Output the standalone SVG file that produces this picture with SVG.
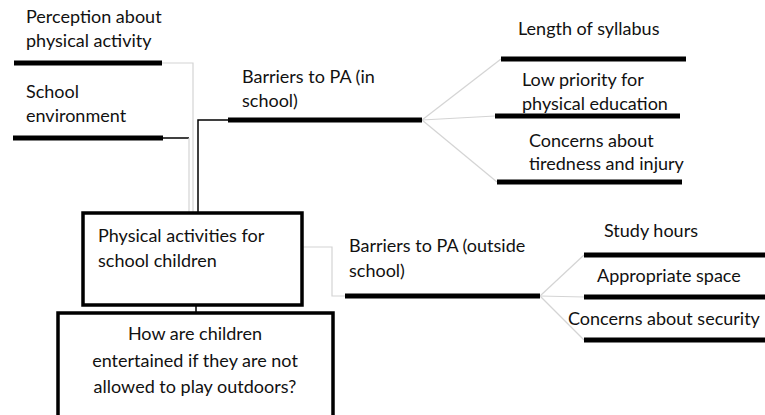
<svg xmlns="http://www.w3.org/2000/svg" width="765" height="415" viewBox="0 0 765 415">
<style>
text{font-family:Lato,"Liberation Sans",sans-serif;font-size:18px;fill:#111}
.bar{stroke:#000;stroke-width:5;fill:none}
.grey{stroke:#d4d4d4;stroke-width:1.2;fill:none}
.blk{stroke:#000;stroke-width:1.5;fill:none}
.box{stroke:#000;stroke-width:3.5;fill:#fff}
</style>
<rect width="765" height="415" fill="#fff"/>
<g id="connectors">
<polyline class="grey" points="162,63 193,63 193,213"/>
<polyline class="blk" points="163,138 189,138"/>
<polyline class="grey" points="189,138 189,213"/>
<polyline class="blk" points="198,213 198,120 228,120"/>
<line class="grey" x1="422" y1="120" x2="501" y2="59"/>
<line class="grey" x1="422" y1="120" x2="495" y2="116"/>
<line class="grey" x1="422" y1="120" x2="497" y2="182"/>
<polyline class="grey" points="302,247 332,247 332,296 345,296"/>
<line class="grey" x1="540" y1="296" x2="584" y2="255"/>
<line class="grey" x1="540" y1="296" x2="584" y2="297"/>
<line class="grey" x1="540" y1="296" x2="584" y2="340"/>
<line class="blk" x1="196" y1="283" x2="196" y2="313"/>
</g>
<g id="perception">
<line class="bar" x1="14" y1="63" x2="162" y2="63"/>
<text x="26" y="23">Perception about</text>
<text x="26" y="47">physical activity</text>
</g>
<g id="school-environment">
<line class="bar" x1="13" y1="138" x2="163" y2="138"/>
<text x="26" y="98">School</text>
<text x="26" y="122">environment</text>
</g>
<g id="barriers-in">
<line class="bar" x1="228" y1="120" x2="422" y2="120"/>
<text x="242" y="83">Barriers to PA (in</text>
<text x="242" y="107">school)</text>
</g>
<g id="syllabus">
<line class="bar" x1="501" y1="59" x2="686" y2="59"/>
<text x="518" y="35">Length of syllabus</text>
</g>
<g id="priority">
<line class="bar" x1="495" y1="116" x2="680" y2="116"/>
<text x="522" y="86">Low priority for</text>
<text x="522" y="110">physical education</text>
</g>
<g id="tiredness">
<line class="bar" x1="497" y1="182" x2="682" y2="182"/>
<text x="529" y="147">Concerns about</text>
<text x="529" y="170">tiredness and injury</text>
</g>
<g id="main">
<rect class="box" x="83" y="213" width="219" height="92"/>
<text x="98" y="242">Physical activities for</text>
<text x="98" y="267">school children</text>
</g>
<g id="question">
<rect class="box" x="58" y="313" width="275" height="106"/>
<text x="195" y="340" text-anchor="middle">How are children</text>
<text x="195" y="367" text-anchor="middle">entertained if they are not</text>
<text x="195" y="393" text-anchor="middle">allowed to play outdoors?</text>
</g>
<g id="barriers-out">
<line class="bar" x1="345" y1="296" x2="540" y2="296"/>
<text x="349" y="252">Barriers to PA (outside</text>
<text x="349" y="277">school)</text>
</g>
<g id="study">
<line class="bar" x1="584" y1="255" x2="765" y2="255"/>
<text x="604" y="237">Study hours</text>
</g>
<g id="space">
<line class="bar" x1="584" y1="297" x2="765" y2="297"/>
<text x="597" y="282">Appropriate space</text>
</g>
<g id="security">
<line class="bar" x1="584" y1="340" x2="765" y2="340"/>
<text x="568" y="325">Concerns about security</text>
</g>
</svg>
